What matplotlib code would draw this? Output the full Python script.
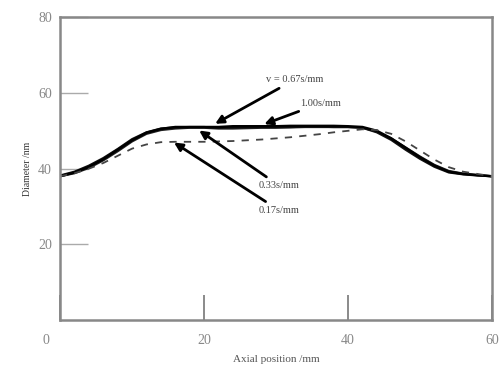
import matplotlib
matplotlib.use("Agg")
import matplotlib.pyplot as plt
import matplotlib.transforms as mtransforms

# axial position (mm)
pos = [0, 2, 4, 6, 8, 10, 12, 14, 16, 18, 20, 22, 24, 26, 28, 30,
       32, 34, 36, 38, 40, 42, 44, 46, 48, 50, 52, 54, 56, 58, 60]
# diameter for each drawing speed
d100 = [38, 39, 40.5, 42.5, 45, 47.5, 49.5, 50.5, 51, 51, 51, 51, 51.2, 51.2, 51.2, 51.2,
        51.3, 51.3, 51.3, 51.3, 51.2, 51, 50, 48, 45.5, 43, 40.8, 39.2, 38.6, 38.3, 38]
d067 = [38.2, 39.2, 40.8, 42.8, 45.2, 47.8, 49.6, 50.6, 50.9, 51, 51, 50.8, 50.9, 51, 51, 51,
        51, 51.1, 51.1, 51, 51, 50.8, 49.6, 47.6, 45, 42.6, 40.5, 39, 38.5, 38.2, 38]
d033 = [38, 38.8, 40.2, 42.2, 44.6, 47.2, 49.2, 50.2, 50.6, 50.8, 50.8, 50.6, 50.6, 50.7, 50.8, 50.8,
        50.9, 51, 51, 51, 51, 50.8, 49.8, 48, 45.6, 43.2, 41, 39.4, 38.7, 38.3, 38]
d017 = [38, 38.8, 40, 41.5, 43.4, 45.3, 46.4, 47, 47.1, 47.1, 47.1, 47.2, 47.3, 47.5, 47.7, 48,
        48.3, 48.7, 49.1, 49.6, 50, 50.4, 50.2, 49.2, 47.2, 44.8, 42.4, 40.4, 39.2, 38.6, 38]

labels = ["v = 0.67s/mm", "1.00s/mm", "0.33s/mm", "0.17s/mm"]

plt.rcParams['font.family'] = ['Liberation Serif', 'DejaVu Serif']

fig = plt.figure(figsize=(5.01, 3.74), dpi=100)
ax = fig.add_axes([0.12, 0.144, 0.862, 0.81])

ax.plot(pos, d033, color='#222222', lw=1.6)
ax.plot(pos, d067, color='#111111', lw=1.6)
ax.plot(pos, d100, color='#000000', lw=1.8)
ax.plot(pos, d017, color='#444444', lw=1.3, ls=(0, (4, 4)))

ax.set_xlim(0, 60)
ax.set_ylim(0, 80)
ax.set_xticks([0, 20, 40, 60])
ax.set_yticks([20, 40, 60, 80])
ax.tick_params(axis='y', direction='in', length=20, width=1, color='#aaaaaa',
               labelcolor='#888888', labelsize=10, pad=6)
ax.tick_params(axis='x', direction='in', length=18, width=1.2, color='#777777',
               labelcolor='#888888', labelsize=10, pad=10)
for s in ax.spines.values():
    s.set_color('#888888')
    s.set_linewidth(1.8)

# the origin label sits a bit left of the corner in the original
fig.canvas.draw()
shift = mtransforms.ScaledTranslation(-14 / 100, 0, fig.dpi_scale_trans)
xl0 = ax.get_xticklabels()[0]
xl0.set_transform(xl0.get_transform() + shift)

ax.set_xlabel("Axial position /mm", fontsize=8, color='#555555', labelpad=6)
ax.set_ylabel("Diameter /nm", fontsize=7, color='#333333', labelpad=4)

arrow = dict(arrowstyle='-|>', color='black', lw=2, mutation_scale=12)
ax.annotate(labels[0], xy=(21.2, 51.5), xytext=(28.6, 63.5), fontsize=7.5,
            color='#444444', va='center', arrowprops=arrow)
ax.annotate(labels[1], xy=(28, 51.5), xytext=(33.4, 57.3), fontsize=7.5,
            color='#444444', va='center', arrowprops=arrow)
ax.annotate(labels[2], xy=(19, 50.5), xytext=(27.6, 35.5), fontsize=7.5,
            color='#444444', va='center', arrowprops=arrow)
ax.annotate(labels[3], xy=(15.5, 47.3), xytext=(27.6, 29), fontsize=7.5,
            color='#444444', va='center', arrowprops=arrow)

fig.savefig("out.png", dpi=100)
